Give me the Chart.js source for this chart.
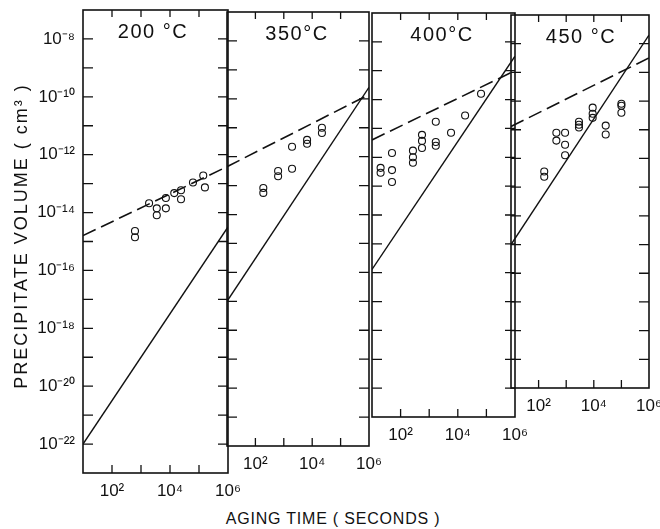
<!DOCTYPE html>
<html>
<head>
<meta charset="utf-8">
<script src="https://cdn.jsdelivr.net/npm/chart.js"></script>
<style>
  body { margin: 0; background: #fff; }
  #wrap { position: relative; width: 660px; height: 529px; overflow: hidden; background: #fff; }
  #wrap canvas { position: absolute; top: 0; }
  #xTitle { position: absolute; left: 0; width: 666px; top: 510px; text-align: center;
            font: 16px "Liberation Sans"; letter-spacing: 0.8px; color: #111; }
</style>
</head>
<body>
<div id="wrap">
  <canvas id="p200" width="245" height="505" style="left:0px"></canvas>
  <canvas id="p350" width="172" height="480" style="left:215px"></canvas>
  <canvas id="p400" width="172" height="452" style="left:360px"></canvas>
  <canvas id="p450" width="161" height="425" style="left:499px"></canvas>
  <div id="xTitle">AGING TIME ( SECONDS )</div>
</div>
<script>
// aging time (s) and precipitate volume (cm3)
var lineTime = [10, 1e6];

var time200 = [620, 620, 1900, 3500, 3500, 7200, 7200, 1.4e4, 2.4e4, 2.4e4, 6.2e4, 1.4e5, 1.6e5];
var vol200 = [2.3e-15, 1.4e-15, 2.1e-14, 1.4e-14, 8.1e-15, 3.2e-14, 1.4e-14, 4.7e-14, 5.9e-14, 2.9e-14, 1.1e-13, 1.9e-13, 7.4e-14];
var solid200 = [1e-22, 3.2e-15];
var dashed200 = [1.6e-15, 4e-13];

var time350 = [190, 190, 630, 630, 1950, 1950, 6600, 6600, 2.2e4, 2.2e4];
var vol350 = [8.3e-14, 5.6e-14, 3.2e-13, 2.1e-13, 2.2e-12, 3.8e-13, 3.8e-12, 2.8e-12, 1.0e-11, 6.6e-12];
var solid350 = [1e-17, 2.5e-10];
var dashed350 = [4.5e-13, 1.4e-10];

var time400 = [20, 20, 50, 50, 50, 270, 270, 270, 560, 560, 560, 1700, 1700, 1700, 5800, 1.8e4, 6.5e4];
var vol400 = [4.3e-13, 2.9e-13, 1.4e-12, 3.6e-13, 1.4e-13, 1.7e-12, 1.0e-12, 6.5e-13, 6.0e-12, 3.7e-12, 2.1e-12, 1.7e-11, 3.4e-12, 2.5e-12, 7.1e-12, 2.8e-11, 1.6e-10];
var solid400 = [1.3e-16, 3.2e-9];
var dashed400 = [4e-12, 1e-9];

var time450 = [160, 160, 440, 440, 910, 910, 910, 2900, 2900, 2900, 9100, 9100, 9100, 2.7e4, 2.7e4, 1e5, 1e5, 1e5];
var vol450 = [3.5e-13, 2.3e-13, 7.9e-12, 4.2e-12, 7.9e-12, 3.0e-12, 1.3e-12, 1.9e-11, 1.5e-11, 1.2e-11, 5.9e-11, 3.6e-11, 2.6e-11, 1.4e-11, 6.8e-12, 8.1e-11, 6.9e-11, 3.9e-11];
var solid450 = [1e-15, 2e-8];
var dashed450 = [1.3e-11, 3.2e-9];

// ticks
var xTicks = [10, 1e2, 1e3, 1e4, 1e5, 1e6];
var xLabelExps = [2, 4, 6];
var yLabelExps = [-8, -10, -12, -14, -16, -18, -20, -22];

var ink = '#111';
var fontName = 'Liberation Sans';

function sup(n) {
    var map = { '-': '\u207B', '0': '\u2070', '1': '\u00B9', '2': '\u00B2', '3': '\u00B3', '4': '\u2074',
        '5': '\u2075', '6': '\u2076', '7': '\u2077', '8': '\u2078', '9': '\u2079' };
    return String(n).split('').map(function (c) { return map[c]; }).join('');
}

function toXY(xs, ys) {
    return xs.map(function (x, i) { return { x: x, y: ys[i] }; });
}

// frame, inward tick marks, temperature label (and the y title on the first panel)
var panelFrame = {
    id: 'panelFrame',
    afterDatasetsDraw: function (chart, args, opts) {
        var a = chart.chartArea, ctx = chart.ctx;
        var xs = chart.scales.x, ys = chart.scales.y;
        ctx.save();
        ctx.strokeStyle = ink;
        ctx.lineWidth = 1.6;
        ctx.strokeRect(a.left, a.top, a.right - a.left, a.bottom - a.top);
        ctx.lineWidth = 1.3;
        ctx.beginPath();
        ys.ticks.forEach(function (t) {
            var y = ys.getPixelForValue(t.value);
            if (y <= a.top + 1 || y >= a.bottom - 1) return;
            ctx.moveTo(a.left, y); ctx.lineTo(a.left + 10, y);
            ctx.moveTo(a.right, y); ctx.lineTo(a.right - 10, y);
        });
        xs.ticks.forEach(function (t) {
            var x = xs.getPixelForValue(t.value);
            if (x <= a.left + 1 || x >= a.right - 1) return;
            ctx.moveTo(x, a.top); ctx.lineTo(x, a.top + 7);
            ctx.moveTo(x, a.bottom); ctx.lineTo(x, a.bottom - 8);
        });
        ctx.stroke();

        ctx.fillStyle = ink;
        ctx.textAlign = 'center';
        ctx.textBaseline = 'middle';
        ctx.letterSpacing = '1.5px';
        ctx.font = '20px "' + fontName + '"';
        ctx.fillText(opts.label, a.left + 70, a.top + 22);

        if (opts.yTitle) {
            ctx.letterSpacing = '2px';
            ctx.font = '18px "' + fontName + '"';
            ctx.translate(22, 236);
            ctx.rotate(-Math.PI / 2);
            ctx.fillText(opts.yTitle, 0, 0);
        }
        ctx.restore();
    }
};
Chart.register(panelFrame);

function makePanel(id, p) {
    var yTicks = [];
    for (var e = Math.round(Math.log10(p.yMin)); e <= -7; e++) yTicks.push({ value: Math.pow(10, e) });

    new Chart(document.getElementById(id), {
        type: 'scatter',
        data: {
            datasets: [
                {
                    type: 'line', data: toXY(lineTime, p.solid), borderColor: ink, borderWidth: 1.4,
                    pointRadius: 0, fill: false
                },
                {
                    type: 'line', data: toXY(lineTime, p.dashed), borderColor: ink, borderWidth: 1.6,
                    borderDash: [14, 6], pointRadius: 0, fill: false
                },
                {
                    data: toXY(p.time, p.vol), pointRadius: 3.5, pointBorderWidth: 1.1,
                    pointBorderColor: ink, pointBackgroundColor: 'rgba(0,0,0,0)'
                }
            ]
        },
        options: {
            responsive: false,
            animation: false,
            devicePixelRatio: 1,
            layout: { padding: { top: p.top, right: p.right, left: 0, bottom: 0 } },
            plugins: {
                legend: { display: false },
                tooltip: { enabled: false },
                panelFrame: { label: p.label, yTitle: p.yTitle }
            },
            scales: {
                x: {
                    type: 'logarithmic', min: 10, max: 1e6,
                    grid: { display: false, drawTicks: false },
                    border: { display: false },
                    ticks: {
                        autoSkip: false, maxRotation: 0, padding: 8, color: ink,
                        font: { family: fontName, size: 17 },
                        callback: function (v) {
                            var e = Math.round(Math.log10(v));
                            return xLabelExps.indexOf(e) >= 0 ? '10' + sup(e) : '';
                        }
                    },
                    afterBuildTicks: function (s) {
                        s.ticks = xTicks.map(function (v) { return { value: v }; });
                    },
                    afterFit: function (s) {
                        s.height = p.xH; s.paddingLeft = 0; s.paddingRight = 0;
                    }
                },
                y: {
                    type: 'logarithmic', min: p.yMin, max: 1e-7,
                    grid: { display: false, drawTicks: false },
                    border: { display: false },
                    ticks: {
                        display: !!p.yTitle, autoSkip: false, padding: 8, color: ink,
                        font: { family: fontName, size: 17 },
                        callback: function (v) {
                            var e = Math.round(Math.log10(v));
                            return yLabelExps.indexOf(e) >= 0 ? '10' + sup(e) : '';
                        }
                    },
                    afterBuildTicks: function (s) { s.ticks = yTicks.slice(); },
                    afterFit: function (s) {
                        s.width = p.yW; s.paddingTop = 0; s.paddingBottom = 0;
                    }
                }
            }
        }
    });
}

//- 200 C -
makePanel('p200', { label: '200 \u00B0C', time: time200, vol: vol200, solid: solid200, dashed: dashed200,
    yMin: 1e-23, top: 10, right: 17, yW: 83, xH: 32, yTitle: 'PRECIPITATE VOLUME ( cm\u00B3 )' });
//- 350 C -
makePanel('p350', { label: '350\u00B0C', time: time350, vol: vol350, solid: solid350, dashed: dashed350,
    yMin: 1e-22, top: 12, right: 18, yW: 12, xH: 34 });
//- 400 C -
makePanel('p400', { label: '400\u00B0C', time: time400, vol: vol400, solid: solid400, dashed: dashed400,
    yMin: 1e-21, top: 13, right: 17, yW: 12, xH: 35 });
//- 450 C -
makePanel('p450', { label: '450 \u00B0C', time: time450, vol: vol450, solid: solid450, dashed: dashed450,
    yMin: 1e-20, top: 15, right: 11, yW: 12, xH: 37 });
</script>
</body>
</html>
